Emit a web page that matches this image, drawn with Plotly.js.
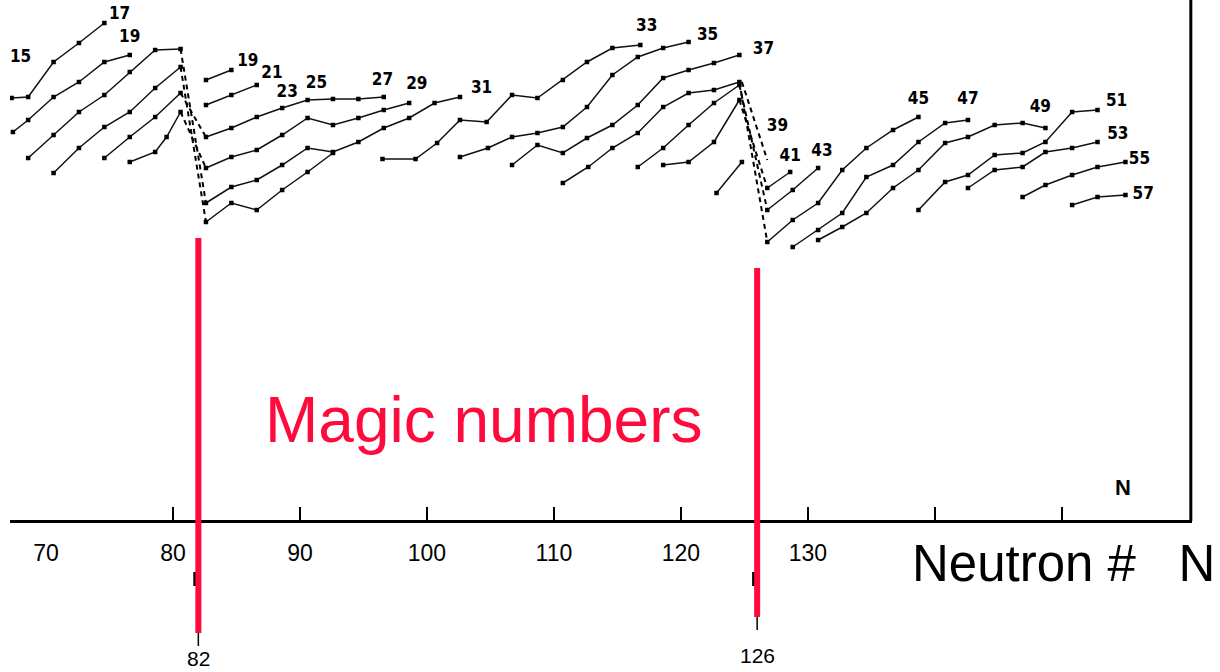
<!DOCTYPE html>
<html>
<head>
<meta charset="utf-8">
<script src="https://cdn.plot.ly/plotly-3.0.1.min.js"></script>
<style>html,body{margin:0;padding:0;background:#fff;}#chart{width:1220px;height:672px;}</style>
</head>
<body>
<div id="chart"></div>
<script>
// ---- Data (N = neutron number, E = relative height above axis, arbitrary units) ----
// Chains before N = 82
const a1N = [67.3, 68.6, 70.6, 72.6, 74.6];               const a1E = [422, 423, 458, 477, 497];
const a2N = [67.4, 68.6, 70.6, 72.6, 74.6, 76.6];         const a2E = [388, 400, 423, 438, 458, 465];
const a3N = [68.6, 70.6, 72.6, 74.6, 76.6, 78.6, 80.6];   const a3E = [362, 385, 408, 425, 448, 470, 471];
const a4N = [70.6, 72.6, 74.6, 76.6, 78.6, 80.6];         const a4E = [347, 372, 393, 408, 432, 453];
const a5N = [74.6, 76.6, 78.6, 80.6];                     const a5E = [362, 383, 403, 427];
const a6N = [76.6, 78.6, 79.5, 80.6];                     const a6E = [358, 368, 383, 408];
// Chains between N = 82 and N = 126
const b1N = [82.6, 84.6];                                 const b1E = [440, 450];
const b2N = [82.6, 84.6, 86.6];                           const b2E = [415, 425, 435];
const b3N = [82.6, 84.6, 86.6, 88.6, 90.6, 92.6, 94.6, 96.6];
const b3E = [383, 392, 403, 412, 420, 421, 421, 423];
const b4N = [82.6, 84.6, 86.6, 88.6, 90.6, 92.6, 94.6, 96.6, 98.6];
const b4E = [352, 363, 370, 385, 402, 395, 402, 410, 417];
const b5N = [82.6, 84.6, 86.6, 88.6, 90.6, 92.6, 94.6, 96.6, 98.6, 100.6, 102.6];
const b5E = [317, 333, 340, 355, 372, 368, 378, 392, 402, 417, 423];
const b6N = [82.6, 84.6, 86.6, 88.6, 90.6, 92.6];         const b6E = [298, 317, 310, 330, 348, 367];
const c33N = [96.5, 99.1, 100.8, 102.6, 104.7, 106.7, 108.7, 110.7, 112.6, 114.6, 116.8];
const c33E = [361, 361, 377, 400, 398, 425, 422, 440, 458, 472, 475];
const c35N = [102.6, 104.8, 106.7, 108.7, 110.7, 112.6, 114.6, 116.6, 118.6, 120.6];
const c35E = [363, 372, 383, 387, 393, 413, 445, 463, 472, 478];
const c37N = [106.7, 108.7, 110.7, 112.6, 114.6, 116.6, 118.6, 120.6, 122.6, 124.6];
const c37E = [355, 375, 367, 382, 395, 415, 442, 450, 457, 465];
const chN = [110.7, 112.7, 114.6, 116.6, 118.6, 120.6, 122.6, 124.6];
const chE = [337, 353, 372, 387, 413, 427, 430, 438];
const ciN = [116.6, 118.6, 120.6, 122.6, 124.6];          const ciE = [353, 372, 395, 417, 435];
const cjN = [118.6, 120.6, 122.6, 124.6];                 const cjE = [355, 358, 378, 420];
const ckN = [122.8, 124.8];                               const ckE = [327, 358];
// Chains after N = 126
const d41N = [126.8, 128.6];                              const d41E = [332, 348];
const d43N = [126.8, 128.8, 130.8];                       const d43E = [310, 330, 352];
const d45N = [126.8, 128.8, 130.8, 132.7, 134.6, 136.7, 138.7];
const d45E = [278, 300, 317, 350, 372, 390, 403];
const d47N = [128.8, 130.8, 132.7, 134.6, 136.7, 138.7, 140.8, 142.6];
const d47E = [273, 290, 307, 343, 355, 378, 397, 400];
const d49N = [130.8, 132.7, 134.6, 136.7, 138.7, 140.8, 142.6, 144.7, 146.9, 148.7];
const d49E = [280, 293, 307, 332, 350, 377, 383, 395, 397, 392];
const d51N = [138.7, 140.8, 142.6, 144.7, 146.9, 148.7, 150.8, 152.8];
const d51E = [310, 338, 345, 365, 367, 378, 408, 410];
const d53N = [142.6, 144.7, 146.9, 148.7, 150.8, 152.8];  const d53E = [332, 350, 353, 368, 372, 378];
const d55N = [146.9, 148.7, 150.8, 152.8, 155.0];         const d55E = [323, 335, 345, 353, 358];
const d57N = [150.8, 152.8, 155.0];                       const d57E = [315, 323, 325];
// Dashed jumps across the magic numbers: [N from, E from, N to, E to]
const jump82 = [[80.6, 471, 82.6, 317], [80.6, 453, 82.6, 298], [80.6, 427, 82.6, 383], [80.6, 408, 82.6, 352]];
const jump126 = [[124.6, 438, 126.8, 278], [124.6, 435, 126.8, 310], [124.6, 420, 126.8, 332], [124.8, 438, 126.8, 360]];
// Chain labels
const labelText = ["15","17","19","19","21","23","25","27","29","31","33","35","37","39","41","43","45","47","49","51","53","55","57"];
const labelN = [68.0, 75.8, 76.6, 85.9, 87.8, 89.0, 91.3, 96.5, 99.2, 104.3, 117.3, 122.1, 126.5, 127.6, 128.6, 131.1, 138.7, 142.6, 148.3, 154.3, 154.4, 156.1, 156.4];
const labelE = [462, 505, 482, 458, 446, 427, 436, 439, 435, 431, 493, 484, 470, 393, 363, 368, 420, 420, 412, 418, 385, 360, 325];
// Axis ticks
const tickMarks = [80, 90, 100, 110, 120, 130, 140, 150];
const tickLabelVals = [70, 80, 90, 100, 110, 120, 130];
const tickLabelText = ["70", "80", "90", "100", "110", "120", "130"];
const magicNumbers = [82, 126];

// ---- Build traces ----
const chains = [
  [a1N,a1E],[a2N,a2E],[a3N,a3E],[a4N,a4E],[a5N,a5E],[a6N,a6E],
  [b1N,b1E],[b2N,b2E],[b3N,b3E],[b4N,b4E],[b5N,b5E],[b6N,b6E],
  [c33N,c33E],[c35N,c35E],[c37N,c37E],[chN,chE],[ciN,ciE],[cjN,cjE],[ckN,ckE],
  [d41N,d41E],[d43N,d43E],[d45N,d45E],[d47N,d47E],[d49N,d49E],[d51N,d51E],[d53N,d53E],[d55N,d55E],[d57N,d57E]
];
const traces = [];
chains.forEach(c => traces.push({
  type: 'scatter', mode: 'lines+markers', x: c[0], y: c[1],
  line: {color: '#111', width: 1.5},
  marker: {symbol: 'square', size: 4.5, color: '#000'},
  hoverinfo: 'skip', showlegend: false
}));
jump82.concat(jump126).forEach(j => traces.push({
  type: 'scatter', mode: 'lines', x: [j[0], j[2]], y: [j[1], j[3]],
  line: {color: '#000', width: 2, dash: '5px,4px'},
  hoverinfo: 'skip', showlegend: false
}));
traces.push({
  type: 'scatter', mode: 'text', x: labelN, y: labelE, text: labelText,
  xaxis: 'x2', textposition: 'middle center', cliponaxis: false,
  textfont: {family: 'Liberation Sans Narrow, DejaVu Sans Condensed, sans-serif', size: 17, color: '#000', weight: 'bold'},
  hoverinfo: 'skip', showlegend: false
});

const X0 = 67.17, X1 = 160.24;
const dom = [10/1220, 1192/1220];
const axisPos = (672 - 521) / 672;

const shapes = [];
// right border of the frame
shapes.push({type: 'line', xref: 'x domain', x0: 0.999, x1: 0.999, yref: 'y', y0: -1, y1: 520, line: {color: '#000', width: 3}});
// small black marks under magic numbers
magicNumbers.forEach((m, i) => {
  const bot = i === 0 ? -113 : -97;
  shapes.push({type: 'line', xref: 'x', yref: 'y', x0: m, x1: m, y0: bot, y1: bot - 13, line: {color: '#000', width: 1.5}});
  shapes.push({type: 'line', xref: 'x', yref: 'y', x0: m - 0.2, x1: m - 0.2, y0: -52, y1: -66, line: {color: '#000', width: 5}});
});
// red magic-number lines
magicNumbers.forEach((m, i) => {
  shapes.push({type: 'line', xref: 'x', yref: 'y', x0: m, x1: m,
    y0: i === 0 ? -113 : -97, y1: i === 0 ? 282 : 252,
    line: {color: '#ff0a3c', width: 6}});
});

const annotations = [
  {xref: 'x', yref: 'y', x: 82, y: -138, text: '82', showarrow: false,
   font: {family: 'Liberation Sans, Arial, sans-serif', size: 21, color: '#000'}},
  {xref: 'x', yref: 'y', x: 126, y: -135, text: '126', showarrow: false,
   font: {family: 'Liberation Sans, Arial, sans-serif', size: 21, color: '#000'}},
  {xref: 'paper', yref: 'paper', x: 484/1220, y: (672-420)/672, text: 'Magic numbers', showarrow: false,
   xanchor: 'center', yanchor: 'middle',
   font: {family: 'Liberation Sans, Arial, sans-serif', size: 64, color: '#ff0a3c'}},
  {xref: 'paper', yref: 'paper', x: 910/1220, y: (672-563)/672, text: 'Neutron #\u00a0\u00a0\u00a0N', showarrow: false,
   xanchor: 'left', yanchor: 'middle',
   font: {family: 'Liberation Sans, Arial, sans-serif', size: 51, color: '#000'}},
  {xref: 'paper', yref: 'paper', x: 1123/1220, y: (672-487)/672, text: '<b>N</b>', showarrow: false,
   xanchor: 'center', yanchor: 'middle',
   font: {family: 'Liberation Sans, Arial, sans-serif', size: 22, color: '#000'}}
];

const layout = {
  width: 1220, height: 672,
  margin: {l: 0, r: 0, t: 0, b: 0, pad: 0},
  paper_bgcolor: '#fff', plot_bgcolor: '#fff',
  showlegend: false,
  xaxis: {
    domain: dom, range: [X0, X1], anchor: 'free', position: axisPos,
    showline: true, linewidth: 3, linecolor: '#000',
    ticks: 'inside', ticklen: 13, tickwidth: 2, tickcolor: '#000',
    tickmode: 'array', tickvals: tickMarks, showticklabels: false,
    showgrid: false, zeroline: false, fixedrange: true
  },
  xaxis2: {
    overlaying: 'x', domain: dom, range: [X0, X1], anchor: 'free', position: axisPos,
    showline: false, ticks: '', tickmode: 'array', tickvals: tickLabelVals, ticktext: tickLabelText,
    ticklabelstandoff: 16,
    tickfont: {family: 'Liberation Sans Narrow, Liberation Sans, Arial, sans-serif', size: 23, color: '#000'},
    showgrid: false, zeroline: false, fixedrange: true
  },
  yaxis: {domain: [0, 1], range: [-152, 520], visible: false, showgrid: false, zeroline: false, fixedrange: true},
  shapes: shapes,
  annotations: annotations
};

Plotly.newPlot('chart', traces, layout, {displayModeBar: false, staticPlot: true});
</script>
</body>
</html>
